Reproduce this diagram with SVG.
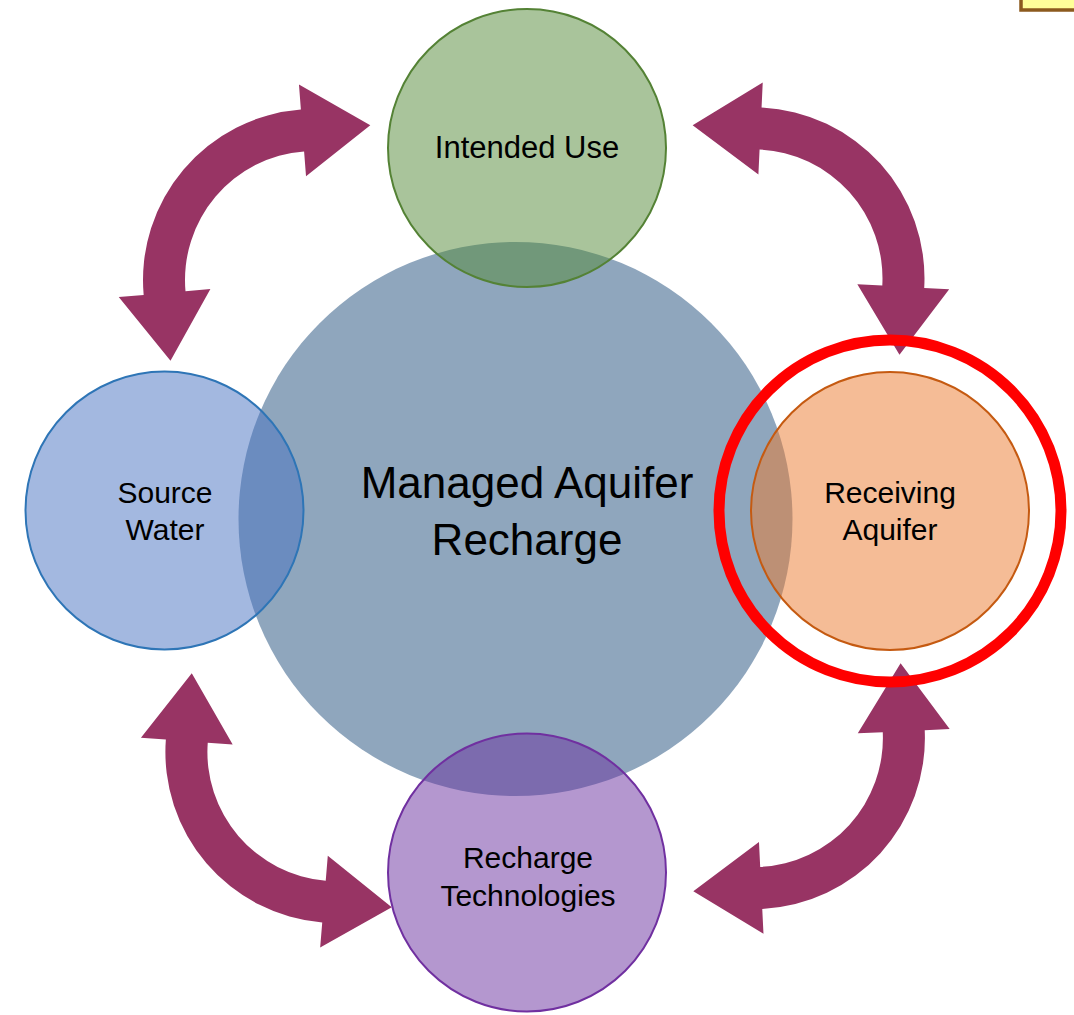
<svg xmlns="http://www.w3.org/2000/svg" width="1074" height="1015" viewBox="0 0 1074 1015">
<style>
.arrow{fill:#983464;stroke:none}
.lbl{font-family:"Liberation Sans",Arial,sans-serif;font-size:30px;fill:#000;text-anchor:middle}
.big{font-family:"Liberation Sans",Arial,sans-serif;font-size:44px;fill:#000;text-anchor:middle}
.node{fill-opacity:0.5;stroke-width:2}
</style>
<rect width="1074" height="1015" fill="#ffffff"/>
<rect x="1021" y="-12" width="70" height="22" fill="#FFFF99" stroke="#8C5A1E" stroke-width="3.5"/>
<g id="connectors">
<path class="arrow" d="M143.65,294.91 A171,171 0 0 1 300.88,109.50 L298.96,84.58 L370.3,125.2 L306.02,176.31 L304.10,151.38 A129,129 0 0 0 185.49,291.24 L210.40,289.07 L170.5,360.8 L118.75,297.09 Z"/>
<path class="arrow" d="M761.56,107.59 A171,171 0 0 1 924.23,287.95 L949.19,289.34 L899.47,354.66 L857.34,284.21 L882.30,285.60 A129,129 0 0 0 759.58,149.54 L758.40,174.52 L692.65,125.37 L762.73,82.62 Z"/>
<path class="arrow" d="M322.24,922.51 A171,171 0 0 1 165.86,739.58 L140.93,737.74 L191.78,673.29 L232.68,744.48 L207.75,742.65 A129,129 0 0 0 325.72,880.66 L327.79,855.74 L391.75,907.22 L320.17,947.43 Z"/>
<path class="arrow" d="M924.72,730.19 A171,171 0 0 1 762.25,908.90 L763.47,933.87 L693.31,891.24 L758.98,841.98 L760.20,866.95 A129,129 0 0 0 882.76,732.14 L857.79,733.29 L900.6,663.24 L949.69,729.04 Z"/>
</g>
<g id="mar">
<circle cx="515.5" cy="519" r="277" fill="#8FA6BD"/>
<text class="big" x="527" y="498">Managed Aquifer</text>
<text class="big" x="527" y="555">Recharge</text>
</g>
<g id="intended-use">
<circle class="node" cx="527" cy="148" r="139" fill="#538937" stroke="#548235"/>
<text class="lbl" x="527" y="158" style="font-size:31px">Intended Use</text>
</g>
<g id="source-water">
<circle class="node" cx="164.5" cy="510.5" r="139" fill="#4771C1" stroke="#2E75B6"/>
<text class="lbl" x="165" y="503">Source</text>
<text class="lbl" x="165" y="540">Water</text>
</g>
<g id="receiving-aquifer">
<circle class="node" cx="890" cy="511" r="139" fill="#EB792D" stroke="#C55A11"/>
<text class="lbl" x="890" y="503">Receiving</text>
<text class="lbl" x="890" y="540">Aquifer</text>
</g>
<g id="recharge-technologies">
<circle class="node" cx="527" cy="872.5" r="139" fill="#692F9F" stroke="#7030A0"/>
<text class="lbl" x="528" y="868">Recharge</text>
<text class="lbl" x="528" y="906">Technologies</text>
</g>
<g id="highlight">
<circle cx="890" cy="511" r="171" fill="none" stroke="#FF0000" stroke-width="11"/>
</g>
</svg>
